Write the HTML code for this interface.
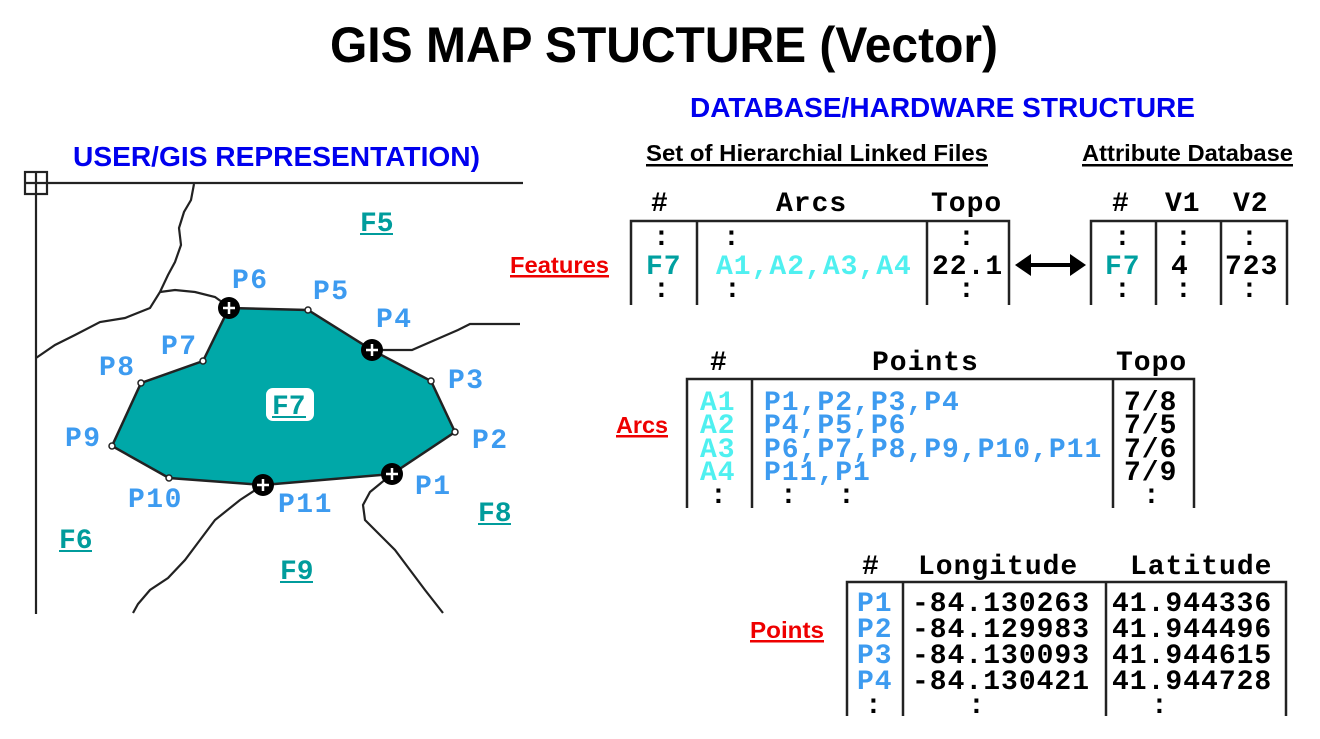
<!DOCTYPE html>
<html><head><meta charset="utf-8"><style>
html,body{margin:0;padding:0;background:#fff;width:1320px;height:739px;overflow:hidden}
svg{display:block}
.m{font-family:"Liberation Mono",monospace;font-weight:bold;font-size:28px}
.h{font-family:"Liberation Sans",sans-serif;font-weight:bold}
</style></head><body>
<svg width="1320" height="739" viewBox="0 0 1320 739" xmlns="http://www.w3.org/2000/svg">
<!-- titles -->
<text class="h" x="330" y="62" font-size="50" textLength="668" lengthAdjust="spacingAndGlyphs">GIS MAP STUCTURE (Vector)</text>
<text class="h" x="690" y="117" font-size="28" fill="#0000ee" textLength="505" lengthAdjust="spacingAndGlyphs">DATABASE/HARDWARE STRUCTURE</text>
<text class="h" x="73" y="166" font-size="28" fill="#0000ee" textLength="407" lengthAdjust="spacingAndGlyphs">USER/GIS REPRESENTATION)</text>
<text class="h" x="646" y="161" font-size="23" textLength="342" lengthAdjust="spacingAndGlyphs">Set of Hierarchial Linked Files</text>
<rect x="646" y="164" width="342" height="2.5"/>
<text class="h" x="1082" y="161" font-size="23" textLength="211" lengthAdjust="spacingAndGlyphs">Attribute Database</text>
<rect x="1082" y="164" width="211" height="2.5"/>
<g fill="#ee0000">
<text class="h" x="510" y="273" font-size="23" textLength="99" lengthAdjust="spacingAndGlyphs">Features</text><rect x="510" y="275" width="99" height="2.5"/>
<text class="h" x="616" y="433" font-size="23" textLength="52" lengthAdjust="spacingAndGlyphs">Arcs</text><rect x="616" y="435" width="52" height="2.5"/>
<text class="h" x="750" y="638" font-size="23" textLength="74" lengthAdjust="spacingAndGlyphs">Points</text><rect x="750" y="640" width="74" height="2.5"/>
</g>

<!-- map -->
<g stroke="#222" stroke-width="2.2" fill="none">
<line x1="36" y1="183" x2="523" y2="183"/>
<line x1="36" y1="183" x2="36" y2="614"/>
<rect x="25" y="172" width="22" height="22" fill="#fff"/>
<line x1="25" y1="183" x2="47" y2="183"/><line x1="36" y1="172" x2="36" y2="194"/>
<polyline points="194,184 191,200 184,212 179,228 181,245 175,262 168,275 160,292 150,308 125,318 100,322 75,335 55,345 36,358"/>
<polyline points="160,292 175,290 195,292 215,297 229,307"/>
<polyline points="372,350 412,350 435,340 458,330 470,324 520,324"/>
<polyline points="263,485 240,500 215,520 200,540 185,560 168,578 150,590 138,604 133,613"/>
<polyline points="392,474 370,492 363,505 365,520 380,535 395,550 410,570 425,590 443,613"/>
</g>
<polygon points="229,308 308,310 372,350 431,381 455,432 392,474 263,485 169,478 112,446 141,383 203,361" fill="#00a8a8" stroke="#222" stroke-width="2.5"/>
<g fill="#fff" stroke="#222" stroke-width="1.5">
<circle cx="308" cy="310" r="3"/><circle cx="431" cy="381" r="3"/><circle cx="455" cy="432" r="3"/>
<circle cx="169" cy="478" r="3"/><circle cx="112" cy="446" r="3"/><circle cx="141" cy="383" r="3"/><circle cx="203" cy="361" r="3"/>
</g>
<g>
<circle cx="229" cy="308" r="11"/><circle cx="372" cy="350" r="11"/><circle cx="392" cy="474" r="11"/><circle cx="263" cy="485" r="11"/>
<g stroke="#fff" stroke-width="2.5">
<path d="M223 308h12M229 302v12M366 350h12M372 344v12M386 474h12M392 468v12M257 485h12M263 479v12"/>
</g>
</g>
<rect x="266" y="388" width="48" height="33" rx="7" fill="#fff"/>
<g class="m" fill="#009c9c" font-size="27">
<text x="272" y="414">F7</text><rect x="272" y="416" width="34" height="2"/>
<text x="360" y="231">F5</text><rect x="360" y="233" width="33" height="2"/>
<text x="478" y="521">F8</text><rect x="478" y="523" width="33" height="2"/>
<text x="59" y="548">F6</text><rect x="59" y="550" width="33" height="2"/>
<text x="280" y="579">F9</text><rect x="280" y="581" width="33" height="2"/>
</g>
<g class="m" fill="#3d9bf0" font-size="26" letter-spacing="1.5">
<text x="232" y="288">P6</text><text x="313" y="299">P5</text><text x="376" y="327">P4</text>
<text x="448" y="388">P3</text><text x="472" y="448">P2</text><text x="415" y="494">P1</text>
<text x="278" y="512">P11</text><text x="128" y="507">P10</text><text x="65" y="446">P9</text>
<text x="99" y="375">P8</text><text x="161" y="354">P7</text>
</g>

<!-- tables -->
<g stroke="#222" stroke-width="2.5" fill="none">
<polyline points="631,305 631,221 1009,221 1009,305"/><line x1="697" y1="221" x2="697" y2="305"/><line x1="927" y1="221" x2="927" y2="305"/>
<polyline points="1091,305 1091,221 1287,221 1287,305"/><line x1="1156" y1="221" x2="1156" y2="305"/><line x1="1221" y1="221" x2="1221" y2="305"/>
<polyline points="687,508 687,379 1194,379 1194,508"/><line x1="752" y1="379" x2="752" y2="508"/><line x1="1113" y1="379" x2="1113" y2="508"/>
<polyline points="847,716 847,582 1286,582 1286,716"/><line x1="903" y1="582" x2="903" y2="716"/><line x1="1106" y1="582" x2="1106" y2="716"/>
</g>
<!-- arrow -->
<line x1="1028" y1="265" x2="1072" y2="265" stroke="#000" stroke-width="4"/>
<polygon points="1015,265 1031,254 1031,276" /><polygon points="1086,265 1070,254 1070,276"/>

<g class="m" letter-spacing="1">
<text x="651" y="211">#</text><text x="776" y="211">Arcs</text><text x="931" y="211">Topo</text>
<text x="1112" y="211">#</text><text x="1165" y="211">V1</text><text x="1233" y="211">V2</text>
<text x="710" y="370">#</text><text x="872" y="370">Points</text><text x="1116" y="370">Topo</text>
<text x="862" y="574">#</text><text x="918" y="574">Longitude</text><text x="1130" y="574">Latitude</text>
<text x="653" y="245">:</text><text x="723" y="245">:</text><text x="958" y="245">:</text>
<text x="1114" y="245">:</text><text x="1175" y="245">:</text><text x="1241" y="245">:</text>
<text x="653" y="297">:</text><text x="724" y="297">:</text><text x="958" y="297">:</text>
<text x="1114" y="297">:</text><text x="1175" y="297">:</text><text x="1241" y="297">:</text>
<text x="932" y="274">22.1</text><text x="1171" y="274">4</text><text x="1225" y="274">723</text>
<g fill="#00a0a0"><text x="646" y="274">F7</text><text x="1105" y="274">F7</text></g>
<text x="716" y="274" fill="#4ff0f0">A1,A2,A3,A4</text>
<g fill="#4ff0f0"><text x="700" y="410">A1</text><text x="700" y="433">A2</text><text x="700" y="457">A3</text><text x="700" y="480">A4</text></g>
<g fill="#3d9bf0"><text x="764" y="410">P1,P2,P3,P4</text><text x="764" y="433">P4,P5,P6</text><text x="764" y="457">P6,P7,P8,P9,P10,P11</text><text x="764" y="480">P11,P1</text></g>
<text x="1124" y="410">7/8</text><text x="1124" y="433">7/5</text><text x="1124" y="457">7/6</text><text x="1124" y="480">7/9</text>
<text x="710" y="503">:</text><text x="780" y="503">:</text><text x="838" y="503">:</text><text x="1143" y="503">:</text>
<g fill="#3d9bf0"><text x="857" y="611">P1</text><text x="857" y="637">P2</text><text x="857" y="663">P3</text><text x="857" y="689">P4</text></g>
<text x="912" y="611">-84.130263</text><text x="912" y="637">-84.129983</text><text x="912" y="663">-84.130093</text><text x="912" y="689">-84.130421</text>
<text x="1112" y="611">41.944336</text><text x="1112" y="637">41.944496</text><text x="1112" y="663">41.944615</text><text x="1112" y="689">41.944728</text>
<text x="865" y="713">:</text><text x="968" y="713">:</text><text x="1151" y="713">:</text>
</g>
</svg>
</body></html>
